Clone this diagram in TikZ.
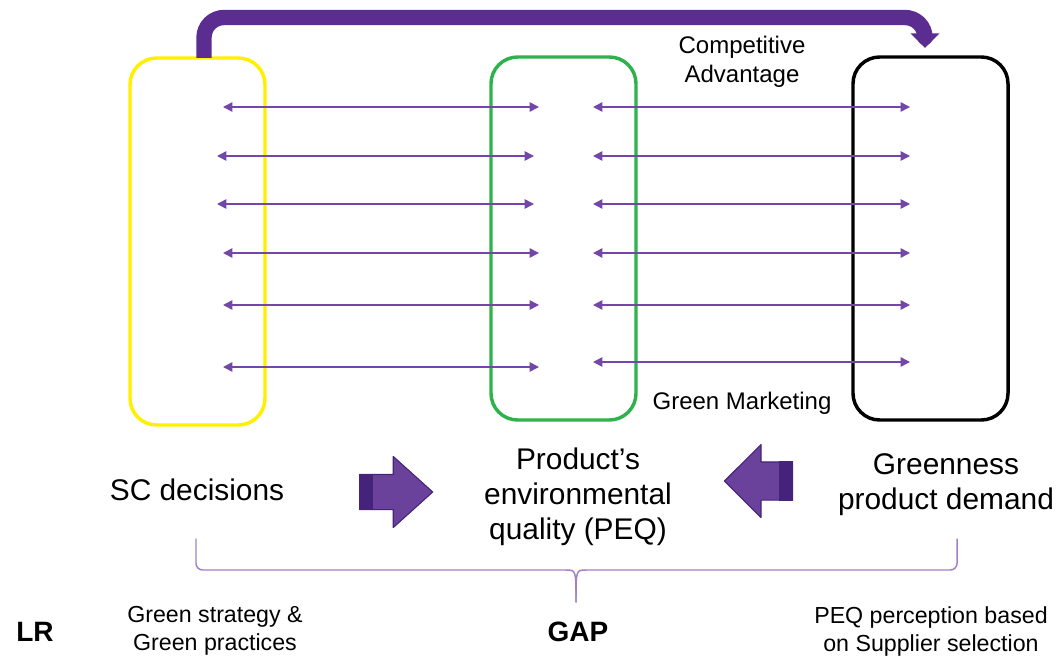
\documentclass[tikz,border=0pt]{standalone}
\usepackage{fontspec}
\setmainfont{Liberation Sans}
\usetikzlibrary{arrows.meta,shapes.arrows}
\definecolor{tim}{HTML}{5B2D90}
\definecolor{timdam}{HTML}{46237A}
\definecolor{timnhat}{HTML}{7446A8}
\definecolor{timngoac}{HTML}{A37FC6}
\definecolor{vang}{HTML}{FFF000}
\definecolor{xanh}{HTML}{2DB24C}
\begin{document}
\begin{tikzpicture}[x=0.75pt, y=-0.75pt, line join=round, line cap=round, >=stealth,
	khung/.style={draw, line width=2.6pt, rounded corners=20pt, inner sep=0pt},
	muiten/.style={timnhat, line width=1.1pt, {Triangle[length=7pt,width=7pt]}-{Triangle[length=7pt,width=7pt]}},
	khoi/.style={single arrow, fill=tim!90!white, draw=timdam, line width=0.8pt, inner xsep=0pt},
	chu/.style={align=center, inner sep=0pt, font=\fontsize{22.4}{26.25}\selectfont},
	chunho/.style={align=center, inner sep=0pt, font=\fontsize{18}{21.75}\selectfont},
	chuduoi/.style={align=center, inner sep=0pt, font=\fontsize{17.4}{21}\selectfont}]
	\useasboundingbox (0,0) rectangle (1062,660);
	
	% Ba khung
	\node[khung, draw=vang, minimum width=101.25pt, minimum height=275.25pt] (sc) at (197.5,241.5) {};
	\node[khung, draw=xanh, minimum width=108.75pt, minimum height=272.25pt] (peq) at (563.5,238.5) {};
	\node[khung, draw=black, minimum width=116.25pt, minimum height=272.25pt] (gd) at (930.5,238.5) {};
	
	% Mui ten lon phia tren
	\coordinate (t0) at (204,58);
	\coordinate (t1) at (925,48);
	\draw[tim, line width=11.5pt, line cap=butt, rounded corners=15pt, -{Triangle[length=11pt,width=21pt]}] (t0) |- (560,17.5) -| (t1);
	
	% Mui ten hai chieu
	\foreach \i/\y/\a/\b in {1/107/223/539, 2/156/217/534, 3/204/217/534, 4/253/223/539, 5/305/223/539, 6/367/223/539}{
		\coordinate (la\i) at (\a,\y);
		\coordinate (lb\i) at (\b,\y);
		\draw[muiten] (la\i) -- (lb\i);
	}
	\foreach \i/\y in {1/107, 2/156, 3/204, 4/253, 5/305, 6/362}{
		\coordinate (ra\i) at (593,\y);
		\coordinate (rb\i) at (910,\y);
		\draw[muiten] (ra\i) -- (rb\i);
	}
	
	% Nhan
	\node[chunho] (ca) at (742,62) {Competitive\\Advantage};
	\node[chunho] (gm) at (742,403) {Green Marketing};
	\node[chu] (tsc) at (197,490) {SC decisions};
	\node[chu] (tpeq) at (578,497) {Product’s\\environmental\\quality (PEQ)};
	\node[chu] (tgd) at (946,485) {Greenness\\product demand};
	
	% Mui ten khoi
	\node[khoi, inner ysep=12.75pt, minimum height=54.75pt, single arrow head extend=13.5pt, single arrow tip angle=84] (kp) at (386.5,492) {};
	\fill[timdam] (kp.before tail) rectangle ([xshift=10.5pt]kp.after tail);
	\node[khoi, shape border rotate=180, inner ysep=13.875pt, minimum height=51pt, single arrow head extend=13.125pt, single arrow tip angle=90] (kt) at (768,481) {};
	\fill[timdam] (kt.before tail) rectangle ([xshift=-10.5pt]kt.after tail);
	
	% Ngoac
	\draw[timngoac, line width=1.1pt, rounded corners=5pt] (196,539) -- (196,570) -- (566,570);
	\draw[timngoac, line width=1.1pt, rounded corners=5pt] (957,539) -- (957,570) -- (586,570);
	\draw[timngoac, line width=1.1pt] (566,570) .. controls (576,570) .. (576,602);
	\draw[timngoac, line width=1.1pt] (586,570) .. controls (576,570) .. (576,602);
	
	% Dong duoi cung
	\node[font=\fontsize{21}{24}\selectfont\bfseries, inner sep=0pt] (lr) at (35,632) {LR};
	\node[font=\fontsize{21}{24}\selectfont\bfseries, inner sep=0pt] (gap) at (578,632) {GAP};
	\node[chuduoi] (gs) at (215,631) {Green strategy \&\\Green practices};
	\node[chuduoi] (ps) at (931,631) {PEQ perception based\\on Supplier selection};
\end{tikzpicture}
\end{document}
